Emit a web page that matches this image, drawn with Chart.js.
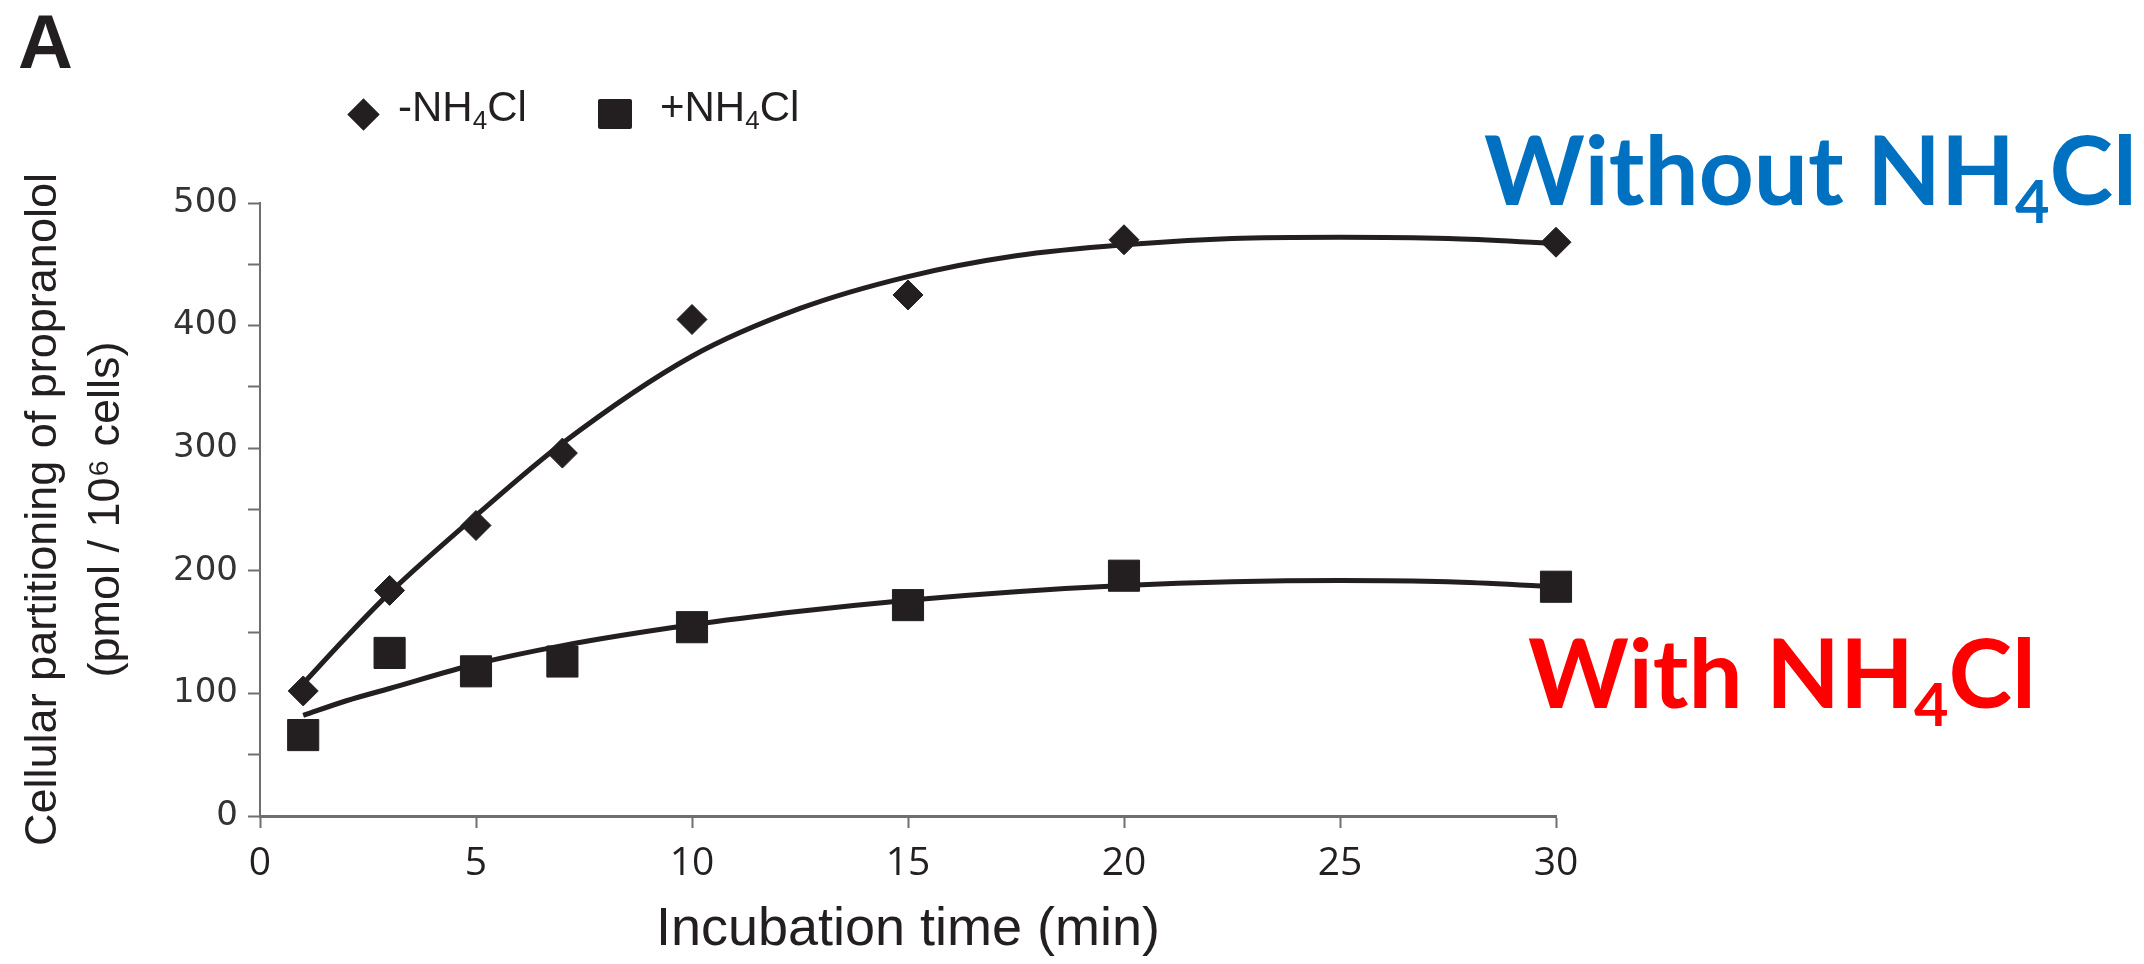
<!DOCTYPE html>
<html>
<head>
<meta charset="utf-8">
<script src="https://cdn.jsdelivr.net/npm/chart.js@4.4.1/dist/chart.umd.min.js"></script>
<style>
  html, body { margin: 0; padding: 0; background: #fff; }
  #wrap { position: relative; width: 2144px; height: 964px; overflow: hidden; }
  #wrap canvas { position: absolute; left: 0; top: 0; }
  .panel { position: absolute; left: 18px; top: -2px; line-height: 1; font: bold 76px 'Liberation Sans', Arial, sans-serif; color: #231f20; }
  .item { position: absolute; top: 93px; height: 42px; display: flex; align-items: center; white-space: nowrap;
          font: 42px 'Liberation Sans', Arial, sans-serif; line-height: 1; color: #231f20; }
  .item .txt { position: relative; top: -7px; }
  .mk { display: inline-block; background: #231f20; }
  .mk.diamond { width: 23px; height: 23px; transform: rotate(45deg); margin: 0 23px 0 5px; }
  .mk.square { width: 34px; height: 30px; border-radius: 2px; margin-right: 28px; }
  .note { position: absolute; line-height: 1; white-space: nowrap; font-family: Lato, 'Open Sans', sans-serif; font-weight: bold; }
  sub { font-size: 62%; vertical-align: -0.3em; line-height: 0; }
</style>
</head>
<body>
<div id="wrap">
  <canvas id="myChart" width="2144" height="964"></canvas>
  <div class="panel">A</div>
  <div class="note" style="left:1484px; top:120px; font-size:96px; color:#0070c0;">Without NH<sub>4</sub>Cl</div>
  <div class="note" style="left:1528px; top:623px; font-size:96px; color:#ff0000;">With NH<sub>4</sub>Cl</div>
</div>
<script>
// Temps d'incubation (min) et valeurs mesurées
const times = [1, 3, 5, 7, 10, 15, 20, 30];
const withoutNH4Cl = [102, 184, 237, 296, 405, 425, 470, 468];
const withNH4Cl = [66, 133, 118, 126, 154, 172, 196, 187];

// Courbes d'ajustement
const fitTimes = [1, 2, 3, 5, 7, 10, 12.5, 15, 17.5, 20, 22.5, 25, 27.5, 30];
const fitWithout = [108, 146, 182, 245, 304, 375, 414, 440, 457, 466, 471, 472, 471, 467];
const fitWith = [82, 94, 104, 124, 139, 156, 167, 176, 183, 188, 191, 192, 191, 187];

const seriesLabels = ['-NH₄Cl', '+NH₄Cl'];
const xTitle = 'Incubation time (min)';
const yTitle = ['Cellular partitioning of propranolol', '(pmol / 10⁶ cells)'];

const ink = '#231f20';
const axisGray = '#6d6e71';

const toPoints = (xs, ys) => xs.map((x, i) => ({ x: x, y: ys[i] }));

const ctx = document.getElementById('myChart').getContext('2d');
const myChart = new Chart(ctx, {
    type: 'scatter',
    data: {
        datasets: [
            {
                label: seriesLabels[0],
                data: toPoints(times, withoutNH4Cl),
                pointStyle: 'rectRot',
                pointRadius: 15,
                backgroundColor: ink,
                borderColor: ink,
                borderWidth: 1,
                clip: false,
                order: 0,
            },
            {
                label: seriesLabels[1],
                data: toPoints(times, withNH4Cl),
                pointStyle: 'rect',
                pointRadius: 22,
                backgroundColor: ink,
                borderColor: ink,
                borderWidth: 1,
                clip: false,
                order: 0,
            },
            {
                label: 'fit ' + seriesLabels[0],
                data: toPoints(fitTimes, fitWithout),
                showLine: true,
                cubicInterpolationMode: 'monotone',
                pointRadius: 0,
                borderColor: ink,
                borderWidth: 5,
                fill: false,
                clip: false,
                order: 1,
            },
            {
                label: 'fit ' + seriesLabels[1],
                data: toPoints(fitTimes, fitWith),
                showLine: true,
                cubicInterpolationMode: 'monotone',
                pointRadius: 0,
                borderColor: ink,
                borderWidth: 5,
                fill: false,
                clip: false,
                order: 1,
            },
        ],
    },
    options: {
        responsive: false,
        animation: false,
        devicePixelRatio: 1,
        layout: {
            padding: { top: 203, right: 588, bottom: 0, left: 0 },
        },
        plugins: {
            legend: { display: false },
            tooltip: { enabled: false },
        },
        scales: {
            x: {
                type: 'linear',
                min: 0,
                max: 30,
                ticks: {
                    stepSize: 5,
                    autoSkip: false,
                    maxRotation: 0,
                    padding: 12,
                    color: '#231f20',
                    font: { family: "'Open Sans', 'Liberation Sans', sans-serif", size: 39 },
                },
                grid: {
                    drawOnChartArea: false,
                    tickLength: 12,
                    tickColor: axisGray,
                    tickWidth: 2,
                },
                border: { color: axisGray, width: 3 },
                title: {
                    display: true,
                    text: xTitle,
                    color: '#231f20',
                    font: { family: "'Liberation Sans', Arial, sans-serif", size: 54 },
                    padding: { top: 0, bottom: 1 },
                },
                afterFit: (scale) => { scale.height = 148; },
            },
            y: {
                min: 0,
                max: 500,
                ticks: {
                    stepSize: 50,
                    autoSkip: false,
                    padding: 10,
                    color: '#333333',
                    font: { family: "'DejaVu Sans', sans-serif", size: 34 },
                    callback: (value) => (value % 100 === 0 ? value : ''),
                },
                grid: {
                    drawOnChartArea: false,
                    tickLength: 12,
                    tickColor: axisGray,
                    tickWidth: 2,
                },
                border: { color: axisGray, width: 2 },
                title: {
                    display: true,
                    text: yTitle,
                    color: '#231f20',
                    font: { family: "'Liberation Sans', Arial, sans-serif", size: 45, lineHeight: 1.38 },
                    padding: { top: 13, bottom: 0 },
                },
                afterFit: (scale) => { scale.width = 260; },
            },
        },
    },
});

// Légende HTML construite à partir des jeux de données
const legendLeft = [347, 598];
const shapes = ['diamond', 'square'];
myChart.data.datasets.slice(0, 2).forEach((ds, i) => {
    const item = document.createElement('div');
    item.className = 'item';
    item.style.left = legendLeft[i] + 'px';
    const mk = document.createElement('span');
    mk.className = 'mk ' + shapes[i];
    const txt = document.createElement('span');
    txt.className = 'txt';
    txt.innerHTML = ds.label.replace('₄', '<sub>4</sub>');
    item.appendChild(mk);
    item.appendChild(txt);
    document.getElementById('wrap').appendChild(item);
});
</script>
</body>
</html>
